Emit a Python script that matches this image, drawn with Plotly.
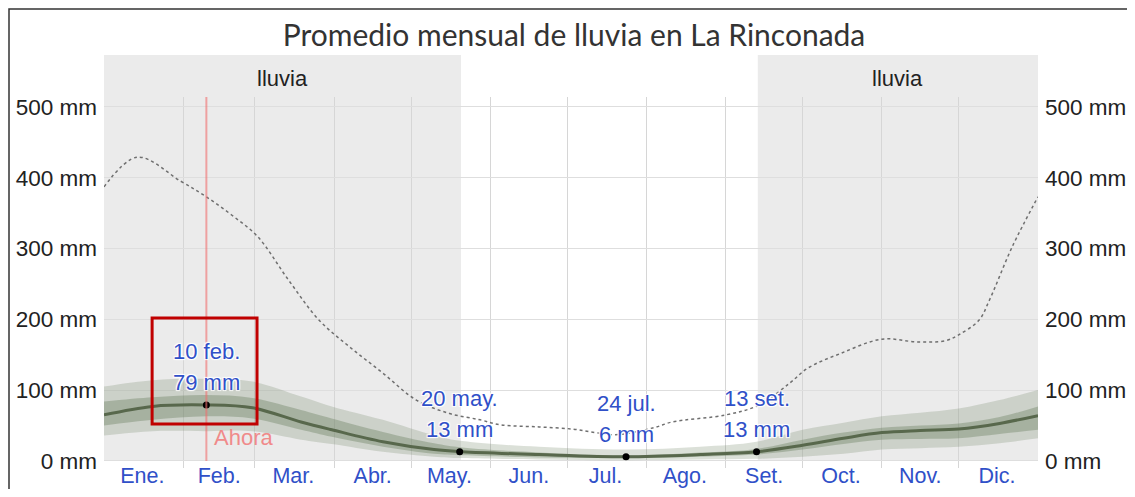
import plotly.graph_objects as go

# day of year (0 = 1 Jan) and rainfall values, mm
days = [0, 19, 40, 58, 77, 89, 109, 129, 140, 170, 204, 233, 255, 273, 289, 304, 319, 334, 350, 365]
lluvia_med = [65, 77, 79, 75, 55, 44, 27, 16, 13, 9, 6, 9, 13, 22, 32, 40, 43, 45, 53, 64]
lluvia_p10 = [36, 42, 42, 42, 30, 24, 13, 6, 4, 2, 1, 2, 3, 6, 10, 16, 18, 20, 25, 32]
lluvia_p90 = [105, 114, 116, 112, 91, 77, 58, 36, 28, 20, 16, 20, 27, 44, 54, 63, 68, 74, 86, 100]
lluvia_p25 = [50, 58, 63, 60, 44, 34, 20, 10, 8, 5, 4, 6, 9, 16, 24, 30, 31, 32, 38, 44]
lluvia_p75 = [84, 90, 93, 89, 72, 60, 41, 25, 19, 12, 8, 12, 17, 30, 40, 47, 50, 53, 62, 77]

nieve_days = [0, 13, 30, 40, 50, 60, 72, 84, 96, 109, 122, 135, 147, 155, 170, 183, 192, 200, 215, 222,
              243, 256, 268, 275, 288, 304, 318, 329, 334, 342, 346, 355, 365]
nieve = [387, 429, 395, 373, 347, 317, 256, 199, 161, 124, 86, 67, 58, 51, 48, 45, 40, 37, 47, 55,
         65, 79, 110, 131, 152, 172, 168, 170, 178, 199, 227, 303, 373]

hl_days = [40, 139, 204, 255]
hl_vals = [79, 13, 6, 13]
hl_dates = ["10 feb.", "20 may.", "24 jul.", "13 set."]

month_mid = [15, 45, 74, 105, 135, 166, 196, 227, 258, 288, 319, 349]
month_labels = ["Ene.", "Feb.", "Mar.", "Abr.", "May.", "Jun.", "Jul.", "Ago.", "Set.", "Oct.", "Nov.", "Dic."]
month_edges = [31, 59, 90, 120, 151, 181, 212, 243, 273, 304, 334]

y_ticks = [0, 100, 200, 300, 400, 500]
y_labels = [f"{v} mm" for v in y_ticks]

season = [(0, 139.5), (255.5, 365)]
hoy = 40

y_range = [-10, 514]
zero_frac = (0 - y_range[0]) / (y_range[1] - y_range[0])

W, H = 1119, 481
ML, MR, MT, MB = 96, 89, 89, 21
pw = W - ML - MR
ph = H - MT - MB

FONT = "Liberation Sans, Arial, sans-serif"
BLUE = "#3050c8"
halo = "1px 1px 1px #fff, -1px -1px 1px #fff, 1px -1px 1px #fff, -1px 1px 1px #fff"
light = "rgba(110,130,100,0.25)"
dark = "rgba(105,125,95,0.38)"

fig = go.Figure()

fig.add_trace(go.Scatter(x=days, y=lluvia_p10, mode="lines", line=dict(width=0, shape="spline"),
                         hoverinfo="skip", showlegend=False))
fig.add_trace(go.Scatter(x=days, y=lluvia_p90, mode="lines", line=dict(width=0, shape="spline"),
                         fill="tonexty", fillcolor=light, hoverinfo="skip", showlegend=False))
fig.add_trace(go.Scatter(x=days, y=lluvia_p25, mode="lines", line=dict(width=0, shape="spline"),
                         hoverinfo="skip", showlegend=False))
fig.add_trace(go.Scatter(x=days, y=lluvia_p75, mode="lines", line=dict(width=0, shape="spline"),
                         fill="tonexty", fillcolor=dark, hoverinfo="skip", showlegend=False))
fig.add_trace(go.Scatter(x=days, y=lluvia_med, mode="lines",
                         line=dict(color="rgb(88,104,76)", width=3, shape="spline"), showlegend=False))
fig.add_trace(go.Scatter(x=nieve_days, y=nieve, mode="lines", yaxis="y2",
                         line=dict(color="#6f6f6f", width=1.5, dash="dot", shape="spline"), showlegend=False))
fig.add_trace(go.Scatter(x=hl_days, y=hl_vals, mode="markers",
                         marker=dict(color="black", size=7), showlegend=False))

shapes = []
for a, b in season:
    shapes.append(dict(type="rect", xref="x", yref="paper", x0=a, x1=b, y0=zero_frac, y1=1 + 42 / ph,
                       fillcolor="#ebebeb", line=dict(width=0), layer="below"))
    fig.add_annotation(x=(a + b) / 2, xref="x", y=1 + 19 / ph, yref="paper", yanchor="middle",
                       text="lluvia", showarrow=False, font=dict(family=FONT, size=22, color="#222"))

shapes.append(dict(type="line", xref="x", yref="paper", x0=hoy, x1=hoy, y0=zero_frac, y1=1,
                   line=dict(color="rgba(240,110,110,0.6)", width=2)))
shapes.append(dict(type="rect", xref="x", yref="y", x0=18.8, x1=59.8, y0=52, y1=202,
                   line=dict(color="#c00000", width=3)))
# frame round the picture
fx0 = (1 - ML) / pw
fy1 = 1 + (MT - 1) / ph
shapes.append(dict(type="path", xref="paper", yref="paper",
                   path=f"M {fx0},-0.2 L {fx0},{fy1} L {1 + MR / pw},{fy1}",
                   line=dict(color="#333", width=1.5)))

fig.add_annotation(x=hoy, y=33, text="Ahora", showarrow=False, xanchor="left", xshift=6,
                   font=dict(family=FONT, size=22, color="#f08a8a"))

for d, v, t in zip(hl_days, hl_vals, hl_dates):
    fig.add_annotation(x=d, y=v, text=f"{v} mm", showarrow=False, yshift=22,
                       font=dict(family=FONT, size=22, color=BLUE, shadow=halo))
    fig.add_annotation(x=d, y=v, text=t, showarrow=False, yshift=53,
                       font=dict(family=FONT, size=22, color=BLUE, shadow=halo))

fig.update_layout(
    width=W, height=H,
    margin=dict(l=ML, r=MR, t=MT, b=MB),
    paper_bgcolor="white", plot_bgcolor="white",
    shapes=shapes,
    title=dict(text="Promedio mensual de lluvia en La Rinconada", x=566 / W, xref="container",
               xanchor="center", y=1 - 27 / H, yanchor="middle",
               font=dict(family="Lato, sans-serif", size=30, color="#333")),
    xaxis=dict(range=[0, 365], tickvals=month_mid, ticktext=month_labels, showgrid=False,
               zeroline=False, ticks="", automargin=False, ticklabelstandoff=-8,
               tickfont=dict(family=FONT, size=21.5, color=BLUE),
               minor=dict(tickvals=month_edges, showgrid=True, gridcolor="#d6d6d6", gridwidth=1)),
    yaxis=dict(range=y_range, tickvals=y_ticks, ticktext=y_labels,
               showgrid=True, gridcolor="#dedede", zeroline=False, ticks="", ticklabelstandoff=6,
               automargin=False, tickfont=dict(family=FONT, size=22.5, color="#222")),
    yaxis2=dict(range=y_range, overlaying="y", side="right", tickvals=y_ticks, ticktext=y_labels,
                showgrid=False, zeroline=False, ticks="", ticklabelstandoff=6, automargin=False,
                tickfont=dict(family=FONT, size=22.5, color="#222")),
)

fig.write_html("out.html")
